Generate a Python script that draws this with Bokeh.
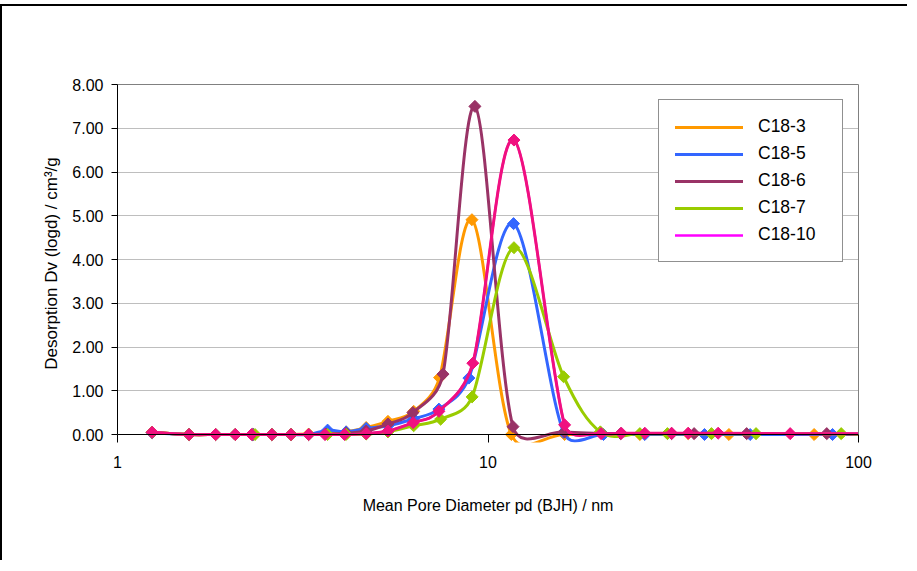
import math
from bokeh.plotting import figure
from bokeh.models import (Range1d, FixedTicker, NumeralTickFormatter, LogAxis, LinearAxis,
                          Legend, LegendItem, Span)
from bokeh.embed import file_html
from bokeh.resources import INLINE

# ---------------- data ----------------
SERIES_NAMES = ["C18-3", "C18-5", "C18-6", "C18-7", "C18-10"]

C18_3_D = [1.24, 1.56, 1.84, 2.08, 2.32, 2.61, 2.94, 3.28, 3.65, 4.14, 4.69, 5.37, 6.30, 7.40,
           9.05, 11.56, 16.1, 25.7, 34.7, 44.7, 75.9, 104]
C18_3_V = [0.05, 0.0, 0.0, 0.0, 0.0, 0.0, 0.0, 0.01, 0.03, 0.06, 0.16, 0.30, 0.53, 1.30,
           4.91, 0.0, 0.0, 0.0, 0.02, 0.0, 0.0, 0.0]

C18_5_D = [1.24, 1.56, 1.84, 2.08, 2.32, 2.61, 2.94, 3.28, 3.69, 4.14, 4.69, 5.37, 6.30, 7.37,
           8.88, 11.72, 16.0, 20.5, 26.5, 38.4, 51.0, 85.1, 104]
C18_5_V = [0.04, 0.0, 0.0, 0.0, 0.0, 0.0, 0.0, 0.0, 0.10, 0.06, 0.14, 0.20, 0.36, 0.58,
           1.29, 4.82, 0.05, 0.0, 0.0, 0.0, 0.0, 0.0, 0.0]

C18_6_D = [1.24, 1.56, 1.84, 2.08, 2.32, 2.61, 2.94, 3.28, 3.65, 4.14, 4.69, 5.37, 6.27, 7.56,
           9.22, 11.68, 16.1, 22.8, 31.3, 36.0, 49.9, 82.1, 104]
C18_6_V = [0.05, 0.0, 0.0, 0.0, 0.0, 0.0, 0.0, 0.0, 0.01, 0.03, 0.08, 0.24, 0.50, 1.38,
           7.50, 0.18, 0.06, 0.02, 0.02, 0.02, 0.02, 0.02, 0.0]

C18_7_D = [1.24, 1.56, 1.84, 2.08, 2.35, 2.61, 2.94, 3.28, 3.69, 4.14, 4.69, 5.37, 6.30, 7.45,
           9.06, 11.75, 16.0, 20.1, 25.7, 30.5, 40.1, 52.9, 89.8, 104]
C18_7_V = [0.05, 0.0, 0.0, 0.0, 0.0, 0.0, 0.0, 0.0, 0.0, 0.0, 0.01, 0.06, 0.20, 0.35,
           0.86, 4.27, 1.32, 0.06, 0.02, 0.02, 0.02, 0.02, 0.02, 0.0]

C18_10_D = [1.24, 1.56, 1.84, 2.08, 2.30, 2.61, 2.94, 3.28, 3.63, 4.10, 4.69, 5.37, 6.28, 7.37,
            9.1, 11.75, 16.1, 20.2, 22.9, 26.5, 31.3, 34.7, 41.8, 65.4, 104]
C18_10_V = [0.05, 0.0, 0.0, 0.0, 0.0, 0.0, 0.0, 0.0, 0.0, 0.0, 0.02, 0.08, 0.27, 0.53,
            1.63, 6.73, 0.22, 0.02, 0.03, 0.03, 0.03, 0.03, 0.03, 0.02, 0.02]

SERIES_D = [C18_3_D, C18_5_D, C18_6_D, C18_7_D, C18_10_D]
SERIES_V = [C18_3_V, C18_5_V, C18_6_V, C18_7_V, C18_10_V]

X_TICKS = [1, 10, 100]
Y_TICKS = [0, 1, 2, 3, 4, 5, 6, 7, 8]
X_TITLE = "Mean Pore Diameter pd (BJH) / nm"
Y_TITLE = "Desorption Dv (logd) / cm\u00b3/g"

# ---------------- style ----------------
LINE_COLORS = ["#FF9900", "#3366FF", "#993366", "#99CC00", "#F0107F"]
LEGEND_COLORS = ["#FF9900", "#3366FF", "#993366", "#99CC00", "#FF00FF"]
FONT = "Liberation Sans"

FIG_W, FIG_H = 907, 556
MB_L, MB_T = 115, 78
FRAME_W, FRAME_H = 741, 358
MB_R = FIG_W - MB_L - FRAME_W
MB_B = FIG_H - MB_T - FRAME_H
X_MIN, X_MAX = 1, 100
Y_MAX = 8.0
Y_MIN = -(FRAME_H - 350) / 350 * Y_MAX

SX = FRAME_W / (math.log10(X_MAX) - math.log10(X_MIN))
SY = FRAME_H / (Y_MAX - Y_MIN)


def smooth_segments(xs, ys):
    """Excel-like smoothed line: cubic Bezier control points computed in screen space."""
    X = [math.log10(x) * SX for x in xs]
    Y = [y * SY for y in ys]
    n = len(X)
    out = {k: [] for k in ("x0", "y0", "x1", "y1", "cx0", "cy0", "cx1", "cy1")}

    def dist(a, b):
        return math.hypot(a[0] - b[0], a[1] - b[1])

    for i in range(n - 1):
        P0 = (X[max(i - 1, 0)], Y[max(i - 1, 0)])
        P1 = (X[i], Y[i])
        P2 = (X[i + 1], Y[i + 1])
        P3 = (X[min(i + 2, n - 1)], Y[min(i + 2, n - 1)])
        d12 = dist(P1, P2)
        d02 = dist(P0, P2)
        d13 = dist(P1, P3)
        f = 1 / 6
        g = 1 / 6
        if d02 > 0 and d02 / 6 >= d12 / 2:
            f = d12 / 2 / d02
        if d13 > 0 and d13 / 6 >= d12 / 2:
            g = d12 / 2 / d13
        C1 = (P1[0] + (P2[0] - P0[0]) * f, P1[1] + (P2[1] - P0[1]) * f)
        C2 = (P2[0] - (P3[0] - P1[0]) * g, P2[1] - (P3[1] - P1[1]) * g)
        out["x0"].append(xs[i]); out["y0"].append(ys[i])
        out["x1"].append(xs[i + 1]); out["y1"].append(ys[i + 1])
        out["cx0"].append(10 ** (C1[0] / SX)); out["cy0"].append(C1[1] / SY)
        out["cx1"].append(10 ** (C2[0] / SX)); out["cy1"].append(C2[1] / SY)
    return out


p = figure(width=FIG_W, height=FIG_H, x_axis_type="log",
           x_range=Range1d(X_MIN, X_MAX), y_range=Range1d(Y_MIN, Y_MAX),
           output_backend="svg", toolbar_location=None,
           min_border_left=MB_L, min_border_right=MB_R,
           min_border_top=MB_T, min_border_bottom=MB_B)
p.styles = {"border-top": "2px solid #000000", "border-left": "2px solid #000000",
            "margin-top": "4px"}
p.background_fill_color = "white"
p.border_fill_color = "white"
p.outline_line_color = None

# x axis: ticks/labels at the frame bottom, axis line drawn at y = 0
xa = p.xaxis[0]
xa.ticker = FixedTicker(ticks=X_TICKS, minor_ticks=[])
xa.formatter = NumeralTickFormatter(format="0")
xa.axis_line_color = None
xa.major_tick_line_color = "black"
xa.major_tick_in = FRAME_H - 350
xa.major_tick_out = 0
xa.minor_tick_line_color = None
xa.major_label_standoff = 13
xa.major_label_text_font = FONT
xa.major_label_text_font_size = "16px"
xa.major_label_text_color = "black"
xa.axis_label = X_TITLE
xa.axis_label_text_font = FONT
xa.axis_label_text_font_size = "16px"
xa.axis_label_text_font_style = "normal"
xa.axis_label_text_color = "black"
xa.axis_label_standoff = 26
p.add_layout(Span(location=0, dimension="width", line_color="black", line_width=1))

# y axis
ya = p.yaxis[0]
ya.bounds = (0, 8)
ya.ticker = FixedTicker(ticks=Y_TICKS, minor_ticks=[])
ya.formatter = NumeralTickFormatter(format="0.00")
ya.axis_line_color = "black"
ya.major_tick_line_color = "black"
ya.major_tick_in = 0
ya.major_tick_out = 6
ya.minor_tick_line_color = None
ya.major_label_standoff = 8
ya.major_label_text_font = FONT
ya.major_label_text_font_size = "16px"
ya.major_label_text_color = "black"
ya.axis_label = Y_TITLE
ya.axis_label_text_font = FONT
ya.axis_label_text_font_size = "17px"
ya.axis_label_text_font_style = "normal"
ya.axis_label_text_color = "black"
ya.axis_label_standoff = 8

p.xgrid.grid_line_color = None
p.ygrid.grid_line_color = "#BEBEBE"
p.ygrid.grid_line_width = 1

# plot-area border (top / right)
top_ax = LogAxis(ticker=FixedTicker(ticks=[], minor_ticks=[]), axis_line_color="#808080",
                 major_tick_line_color=None, minor_tick_line_color=None)
p.add_layout(top_ax, "above")
right_ax = LinearAxis(ticker=FixedTicker(ticks=[], minor_ticks=[]), axis_line_color="#808080",
                      major_tick_line_color=None, minor_tick_line_color=None, bounds=(0, 8))
p.add_layout(right_ax, "right")

# series (each: smoothed line then its markers)
items = []
for name, d, v, col, lcol in zip(SERIES_NAMES, SERIES_D, SERIES_V, LINE_COLORS, LEGEND_COLORS):
    seg = smooth_segments(d, v)
    leg_r = None
    if lcol != col:
        # same path underneath, only used for the legend swatch colour
        leg_r = p.bezier(x0=seg["x0"], y0=seg["y0"], x1=seg["x1"], y1=seg["y1"],
                         cx0=seg["cx0"], cy0=seg["cy0"], cx1=seg["cx1"], cy1=seg["cy1"],
                         line_color=lcol, line_width=2.4, line_cap="round")
    r = p.bezier(x0=seg["x0"], y0=seg["y0"], x1=seg["x1"], y1=seg["y1"],
                 cx0=seg["cx0"], cy0=seg["cy0"], cx1=seg["cx1"], cy1=seg["cy1"],
                 line_color=col, line_width=3, line_cap="round")
    p.scatter(x=d, y=v, marker="square", angle=math.pi / 4, size=8.5,
              fill_color=col, line_color=col, line_width=1)
    items.append(LegendItem(label=name, renderers=[leg_r if leg_r is not None else r]))

legend = Legend(items=items, location=(541, 180), orientation="vertical",
                border_line_color="#222222", border_line_width=1,
                background_fill_color="white", background_fill_alpha=1,
                padding=16, spacing=6, margin=0,
                glyph_width=68, glyph_height=20, label_height=20, label_width=68,
                label_standoff=15,
                label_text_font=FONT, label_text_font_size="17.5px", label_text_color="black")
p.add_layout(legend)

open("out.html", "w").write(file_html(p, INLINE))
